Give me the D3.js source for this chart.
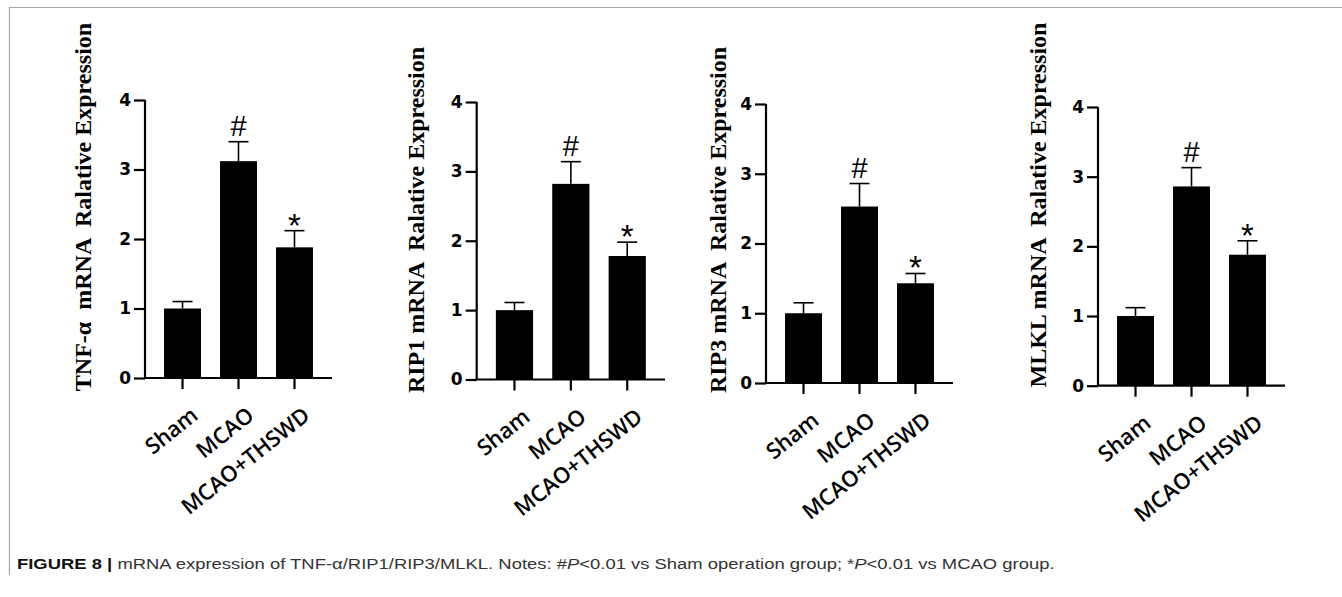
<!DOCTYPE html>
<html>
<head>
<meta charset="utf-8">
<script src="https://cdn.jsdelivr.net/npm/d3@7"></script>
<style>
  body { margin: 0; background: #fff; }
  svg { display: block; }
</style>
</head>
<body>
<script>
// groups and values
const groups = ["Sham", "MCAO", "MCAO+THSWD"];
const marks = ["", "#", "*"];
const yTicks = [0, 1, 2, 3, 4];

const tnfMeans = [1.0, 3.12, 1.88];
const tnfErrors = [0.10, 0.28, 0.24];
const rip1Means = [1.0, 2.82, 1.78];
const rip1Errors = [0.11, 0.32, 0.20];
const rip3Means = [1.0, 2.53, 1.43];
const rip3Errors = [0.15, 0.33, 0.14];
const mlklMeans = [1.0, 2.86, 1.88];
const mlklErrors = [0.12, 0.27, 0.20];

const titles = ["TNF-\u03b1  mRNA  Ralative Expression",
                "RIP1 mRNA  Ralative Expression",
                "RIP3 mRNA  Ralative Expression",
                "MLKL mRNA  Ralative Expression"];

// where each panel sits on the page
const layout = [
  {ax: 145, end: 332, y0: 378, y4: 100, tx: 85, ty: 207},
  {ax: 476.7, end: 665, y0: 379.5, y4: 102, tx: 418, ty: 220},
  {ax: 766, end: 953, y0: 383, y4: 104, tx: 720, ty: 220},
  {ax: 1098, end: 1285, y0: 385.7, y4: 107, tx: 1040, ty: 205}
];
const means = [tnfMeans, rip1Means, rip3Means, mlklMeans];
const errors = [tnfErrors, rip1Errors, rip3Errors, mlklErrors];

const W = 1342, H = 597;
const svg = d3.select("body").append("svg")
    .attr("width", W)
    .attr("height", H);

// frame lines of the figure box
svg.append("path")
    .attr("d", "M9.5,575 V7.5 H1342")
    .attr("fill", "none")
    .attr("stroke", "#a8a8a8")
    .attr("stroke-width", 1.2);

layout.forEach((p, k) => {
    const rows = groups.map((g, i) => ({group: g, mean: means[k][i], err: errors[k][i], mark: marks[i]}));

    const x = d3.scaleBand()
        .domain(groups)
        .range([p.ax, p.end])
        .padding(0.34);
    const y = d3.scaleLinear()
        .domain([0, 4])
        .range([p.y0, p.y4]);
    const cx = d => x(d) + x.bandwidth() / 2;

    const g = svg.append("g");

    g.selectAll("rect.bar")
        .data(rows)
        .enter()
        .append("rect")
            .attr("class", "bar")
            .attr("x", d => x(d.group))
            .attr("y", d => y(d.mean))
            .attr("width", x.bandwidth())
            .attr("height", d => y(0) - y(d.mean))
            .attr("fill", "#000");

    // error bars (upper only)
    const eb = g.selectAll("g.err")
        .data(rows)
        .enter()
        .append("g")
            .attr("class", "err")
            .attr("stroke", "#000")
            .attr("stroke-width", 1.6);
    eb.append("line")
        .attr("x1", d => cx(d.group))
        .attr("x2", d => cx(d.group))
        .attr("y1", d => y(d.mean))
        .attr("y2", d => y(d.mean + d.err));
    eb.append("line")
        .attr("x1", d => cx(d.group) - 10)
        .attr("x2", d => cx(d.group) + 10)
        .attr("y1", d => y(d.mean + d.err))
        .attr("y2", d => y(d.mean + d.err));

    g.selectAll("text.mark")
        .data(rows)
        .enter()
        .append("text")
            .attr("class", "mark")
            .attr("x", d => cx(d.group))
            .attr("y", d => y(d.mean + d.err) - (d.mark === "*" ? -6 : 6))
            .attr("text-anchor", "middle")
            .style("font-family", "Liberation Sans, Arial, sans-serif")
            .style("font-size", d => d.mark === "*" ? "33px" : "29px")
            .text(d => d.mark);

    const yAxis = g.append("g")
        .attr("transform", "translate(" + p.ax + ",0)")
        .call(d3.axisLeft(y).tickValues(yTicks).tickSize(11).tickPadding(3).tickFormat(d3.format("d")));
    const xAxis = g.append("g")
        .attr("transform", "translate(0," + p.y0 + ")")
        .call(d3.axisBottom(x).tickSize(11).tickSizeOuter(0).tickFormat(""));

    [yAxis, xAxis].forEach(a => {
        a.select(".domain").attr("stroke", "#000").attr("stroke-width", 2.2);
        a.selectAll(".tick line").attr("stroke", "#000").attr("stroke-width", 2.2);
    });
    yAxis.select(".domain").attr("d", "M0," + p.y0 + "V" + p.y4);
    xAxis.select(".domain").attr("d", "M" + (p.ax - 1) + ",0H" + p.end);
    yAxis.selectAll(".tick text")
        .style("font-family", "DejaVu Sans, Liberation Sans, sans-serif")
        .style("font-weight", "bold")
        .style("font-size", "17px")
        .attr("fill", "#000");

    // rotated category labels
    g.selectAll("text.cat")
        .data(groups)
        .enter()
        .append("text")
            .attr("class", "cat")
            .attr("transform", d => "translate(" + (cx(d) + 17) + "," + (p.y0 + 40) + ") rotate(-38.5)")
            .attr("text-anchor", "end")
            .style("font-family", "Open Sans, Liberation Sans, sans-serif")
            .style("font-weight", "600")
            .style("font-size", "22px")
            .attr("fill", "#000")
            .text(d => d);

    g.append("text")
        .attr("transform", "translate(" + (p.tx + 6) + "," + p.ty + ") rotate(-90)")
        .attr("text-anchor", "middle")
        .attr("xml:space", "preserve")
        .style("white-space", "pre")
        .style("font-family", "Liberation Serif, Times New Roman, serif")
        .style("font-weight", "bold")
        .style("font-size", "24px")
        .attr("fill", "#000")
        .text(titles[k]);
});

// caption
const cap = svg.append("text")
    .attr("transform", "translate(17,569)")
    .style("font-family", "Liberation Sans, Arial, sans-serif")
    .style("font-size", "15px")
    .attr("fill", "#333");
cap.append("tspan").style("font-weight", "bold").attr("fill", "#111").text("FIGURE 8 ");
cap.append("tspan").style("font-weight", "bold").attr("fill", "#111").text("| ");
cap.append("tspan").text("mRNA expression of TNF-\u03b1/RIP1/RIP3/MLKL. Notes: #");
cap.append("tspan").style("font-style", "italic").text("P");
cap.append("tspan").text("<0.01 vs Sham operation group; *");
cap.append("tspan").style("font-style", "italic").text("P");
cap.append("tspan").text("<0.01 vs MCAO group.");

// squeeze the caption to the width it has in the figure
const capW = cap.node().getComputedTextLength();
cap.attr("transform", "translate(17,569) scale(" + (1038 / capW).toFixed(4) + ",1)");
</script>
</body>
</html>
